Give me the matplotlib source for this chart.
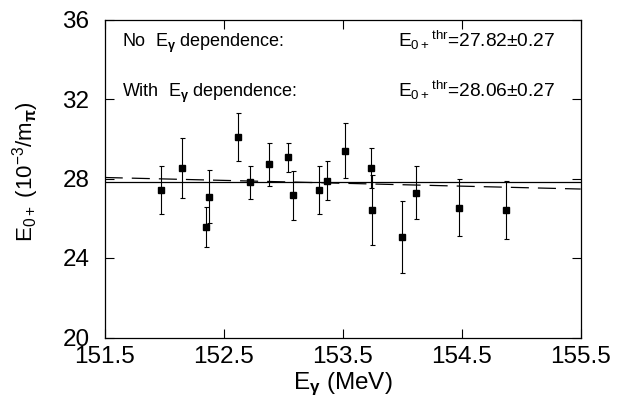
import matplotlib
matplotlib.use("Agg")
import matplotlib.pyplot as plt
import numpy as np

# ---- data ----
e_gamma = [151.97, 152.15, 152.35, 152.38, 152.62, 152.72, 152.88, 153.04, 153.08,
           153.30, 153.37, 153.52, 153.74, 153.75, 154.00, 154.12, 154.48, 154.87]
e0plus = [27.42, 28.53, 25.56, 27.08, 30.09, 27.82, 28.71, 29.07, 27.15,
          27.42, 27.89, 29.40, 28.53, 26.43, 25.07, 27.29, 26.52, 26.42]
e0plus_err = [1.21, 1.50, 1.03, 1.33, 1.22, 0.83, 1.07, 0.74, 1.22,
              1.21, 0.99, 1.37, 1.02, 1.77, 1.80, 1.33, 1.43, 1.45]

const_fit_x = [151.5, 155.5]
const_fit_y = [27.82, 27.82]
lin_fit_x = [151.5, 155.5]
lin_fit_y = [28.05, 27.47]

x_ticks = [151.5, 152.5, 153.5, 154.5, 155.5]
y_ticks = [20, 24, 28, 32, 36]

line1_left = r"No  E$_{\mathbf{\gamma}}$ dependence:"
line1_right = r"E$_{0+}$$^{\rm thr}$=27.82$\pm$0.27"
line2_left = r"With  E$_{\mathbf{\gamma}}$ dependence:"
line2_right = r"E$_{0+}$$^{\rm thr}$=28.06$\pm$0.27"

plt.rcParams['font.family'] = ['Liberation Sans', 'DejaVu Sans']
plt.rcParams['mathtext.fontset'] = 'custom'
plt.rcParams['mathtext.rm'] = 'Liberation Sans'
plt.rcParams['mathtext.it'] = 'Liberation Sans:italic'
plt.rcParams['mathtext.bf'] = 'Liberation Sans:bold'
plt.rcParams['mathtext.default'] = 'regular'
plt.rcParams['lines.scale_dashes'] = False

fig = plt.figure(figsize=(6.19, 4.07), dpi=100)
ax = fig.add_axes([104.7 / 619, 1 - 337.5 / 407, 476 / 619, 318 / 407])

ax.plot(const_fit_x, const_fit_y, color='black', lw=0.9)
ax.plot(lin_fit_x, lin_fit_y, color='black', lw=0.9, dashes=(13, 6.5))
ax.errorbar(e_gamma, e0plus, yerr=e0plus_err, fmt='s', color='black',
            markersize=3.8, elinewidth=0.8, capsize=1.8, capthick=0.8)

ax.set_xlim(151.5, 155.5)
ax.set_ylim(20, 36)
ax.set_xticks(x_ticks)
ax.set_xticklabels([f"{t:.1f}" for t in x_ticks])
ax.set_yticks(y_ticks)
ax.set_yticklabels([str(t) for t in y_ticks])
ax.tick_params(direction='in', length=6.5, width=0.8, top=True, right=True,
               labelsize=17.5)
ax.tick_params(axis='x', pad=6)
ax.tick_params(axis='y', pad=11)
for s in ax.spines.values():
    s.set_linewidth(0.9)

ax.set_xlabel(r"E$_{\mathbf{\gamma}}$ (MeV)", fontsize=17.5, labelpad=2)
fig.text(26 / 619, 1 - 172 / 407, r"E$_{0+}$ (10$^{-3}$/m$_{\mathbf{\pi}}$)",
         rotation=90, ha='center', va='center', fontsize=16)

tx_left = (121.7 - 104.7) / 476
tx_right = (555 - 104.7) / 476
ax.text(tx_left, 0.9145, line1_left, transform=ax.transAxes, fontsize=13,
        ha='left', va='baseline')
ax.text(tx_right, 0.9145, line1_right, transform=ax.transAxes, fontsize=13.8,
        ha='right', va='baseline')
ax.text(tx_left, 0.7553, line2_left, transform=ax.transAxes, fontsize=13,
        ha='left', va='baseline')
ax.text(tx_right, 0.7553, line2_right, transform=ax.transAxes, fontsize=13.8,
        ha='right', va='baseline')

fig.savefig("out.png", dpi=100)
